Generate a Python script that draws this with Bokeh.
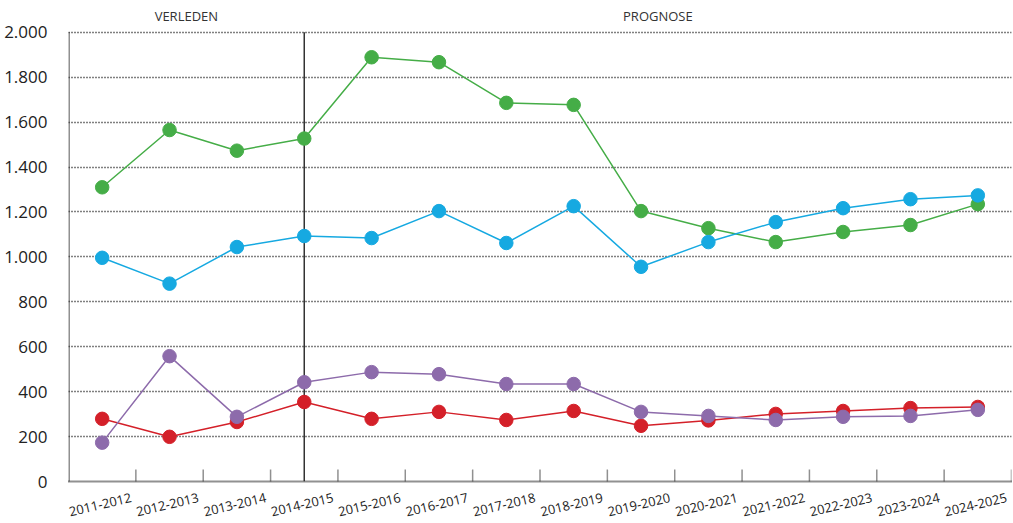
from bokeh.plotting import figure
from bokeh.models import Range1d, FixedTicker
from bokeh.core.properties import value
from bokeh.embed import file_html
from bokeh.resources import INLINE

categories = ["2011-2012", "2012-2013", "2013-2014", "2014-2015", "2015-2016", "2016-2017",
              "2017-2018", "2018-2019", "2019-2020", "2020-2021", "2021-2022", "2022-2023",
              "2023-2024", "2024-2025"]
green = [1310, 1565, 1473, 1527, 1889, 1867, 1686, 1677, 1204, 1128, 1066, 1111, 1142, 1235]
blue = [996, 881, 1044, 1093, 1084, 1204, 1062, 1226, 956, 1066, 1155, 1217, 1257, 1274]
red = [279, 199, 265, 354, 279, 310, 274, 314, 248, 272, 301, 314, 327, 332]
purple = [173, 558, 288, 442, 487, 478, 434, 434, 310, 292, 274, 288, 292, 319]
y_ticks = [0, 200, 400, 600, 800, 1000, 1200, 1400, 1600, 1800, 2000]
y_labels = ["0", "200", "400", "600", "800", "1.000", "1.200", "1.400", "1.600", "1.800", "2.000"]
split_index = 3  # 2014-2015: boundary between past and forecast
region_labels = ["VERLEDEN", "PROGNOSE"]

FONT = "Open Sans"
n = len(categories)
xs = [i + 0.5 for i in range(n)]
y_top = y_ticks[-1]

p = figure(width=1013, height=523, output_backend="svg", toolbar_location=None,
           x_range=Range1d(0, n), y_range=Range1d(0, 2115))
p.min_border_left = 68
p.min_border_right = 2
p.min_border_top = 6
p.min_border_bottom = 39
p.outline_line_color = None
p.background_fill_color = "white"
p.border_fill_color = "white"

# grid
p.xgrid.visible = False
p.ygrid.ticker = FixedTicker(ticks=y_ticks)
p.ygrid.grid_line_color = "#000000"
p.ygrid.grid_line_dash = "1 2"
p.ygrid.grid_line_width = 1.3

# axes
p.yaxis.ticker = FixedTicker(ticks=y_ticks)
p.yaxis.major_label_overrides = {t: l for t, l in zip(y_ticks, y_labels)}
p.yaxis.major_label_text_font = FONT
p.yaxis.major_label_text_font_size = "17px"
p.yaxis.major_label_text_color = "#222222"
p.yaxis.axis_line_color = None
p.yaxis.major_tick_line_color = None
p.yaxis.minor_tick_line_color = None
p.yaxis.major_label_standoff = 15

label_shift = 0.43
p.xaxis.ticker = FixedTicker(ticks=[x + label_shift for x in xs])
p.xaxis.major_label_overrides = {x + label_shift: c for x, c in zip(xs, categories)}
p.xaxis.major_label_orientation = 0.23
p.xaxis.major_label_text_font = FONT
p.xaxis.major_label_text_font_size = "13px"
p.xaxis.major_label_text_line_height = 0.9
p.xaxis.major_label_text_color = "#222222"
p.xaxis.axis_line_color = "#222222"
p.xaxis.axis_line_dash = "1 1"
p.xaxis.axis_line_width = 2
p.xaxis.major_tick_line_color = None
p.xaxis.minor_tick_line_color = None
p.xaxis.major_label_standoff = 10

# left axis line (dotted) up to the top gridline
p.segment(x0=[0], y0=[0], x1=[0], y1=[y_top], line_color="#222222",
          line_dash="1 1", line_width=3)

# category boundary ticks
bx = list(range(1, n + 1))
p.segment(x0=bx, y0=[0] * len(bx), x1=bx, y1=[55] * len(bx),
          line_color="#222222", line_dash="1 1", line_width=1.5)

# past / forecast divider
p.segment(x0=[xs[split_index]], y0=[0], x1=[xs[split_index]], y1=[y_top],
          line_color="#333333", line_width=1.5)

series = [(green, "#45ad47"), (blue, "#16a9e1"), (red, "#d42029"), (purple, "#8d6bab")]
for vals, col in series:
    p.line(xs, vals, line_color=col, line_width=1.5)
    p.scatter(xs, vals, size=13.5, fill_color=col, line_color=col)

p.text(x=[xs[split_index] / 2, (xs[split_index] + n) / 2], y=[y_top, y_top],
       text=region_labels, y_offset=-7, text_align="center", text_baseline="bottom",
       text_font=value(FONT), text_font_size="13px", text_color="#333333")

open("out.html", "w").write(file_html(p, INLINE))
